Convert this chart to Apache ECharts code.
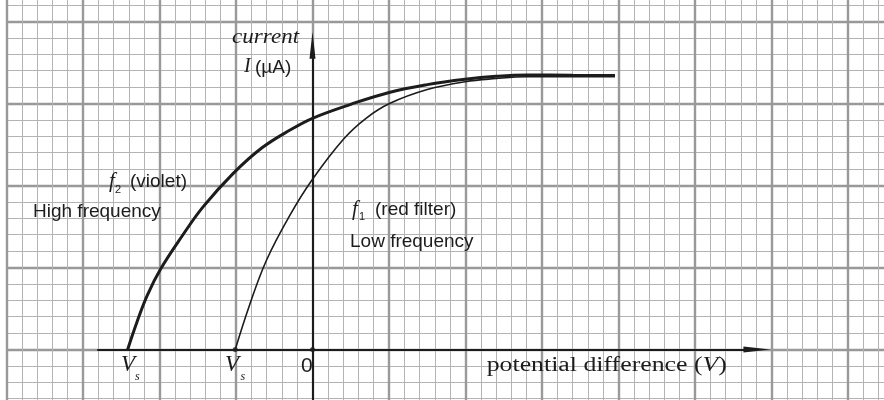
<!DOCTYPE html>
<html><head><meta charset="utf-8">
<script src="https://cdn.jsdelivr.net/npm/echarts@6/dist/echarts.min.js"></script>
<style>html,body{margin:0;padding:0;background:#fff;overflow:hidden;width:884px;height:400px}
#c{position:absolute;left:0;top:-61px;width:930px;height:500px}</style>
</head><body><div id="c"></div>
<script>
// x in minor squares from the current axis, y in minor squares from the voltage axis
const f2Violet = [[-12.08,0],[-11.5,1.6],[-10.8,3.3],[-9.9,4.95],[-8.5,6.95],[-7.14,8.71],[-5.18,10.74],[-3.3,12.3],[-1.47,13.38],[0,14.1],[2.5,14.95],[4.95,15.66],[7.5,16.15],[9.97,16.48],[12,16.66],[14.0,16.74],[17,16.72],[19.77,16.7]];
const f1Red = [[-5.05,0],[-4.1,2.75],[-3.0,5.46],[-1.5,8.15],[0,10.38],[2.05,12.85],[3.5,14.1],[5.07,15.01],[7.5,15.85],[9.97,16.33],[12,16.52],[14.0,16.63],[17,16.64],[19.77,16.64]];
const stopPoints = [[-5.05,0],[0,0]];
const voltageAxis = [[-14.07,0],[29.05,0]];
const currentAxis = [[0,-5],[0,18.55]];
const xRange = [-20, 40];
const yRange = [-5, 25];

const OFFY = 61; // container is shifted up by this many pixels
const chart = echarts.init(document.getElementById('c'), null, {renderer:'canvas'});
const SERIF = '"Liberation Serif", "Times New Roman", serif';
const SANS = '"Liberation Sans", Arial, sans-serif';
const INK = '#1c1c1c';
function txt(text, x, base, size, fam, italic, sx){
  return {type:'text', x:x, y: base + OFFY - 0.345*size, scaleX: sx||1, z:100,
    style:{text:text, fontSize:size, fontFamily:fam, fontStyle: italic?'italic':'normal',
      fill:INK, align:'left', verticalAlign:'middle', textAlign:'left', textVerticalAlign:'middle'}};
}
function axisPair(range, interval, color, width){
  return {type:'value', min:range[0], max:range[1], interval:interval,
    axisLine:{show:false}, axisTick:{show:false}, axisLabel:{show:false},
    splitLine:{show:true, lineStyle:{color:color, width:width}}};
}
const option = {
  animation:false,
  grid:{left:6.5, top:0.5, width:918, height:492, containLabel:false},
  xAxis:[axisPair(xRange,1,'#b3b3b3',1), axisPair(xRange,5,'#999999',2.4)],
  yAxis:[axisPair(yRange,1,'#b3b3b3',1), axisPair(yRange,5,'#999999',2.4)],
  series:[
    {type:'line', data:f2Violet, smooth:0.4, symbol:'none', z:5,
      lineStyle:{color:INK, width:3}},
    {type:'line', data:f1Red, smooth:0.4, symbol:'none', z:5,
      lineStyle:{color:INK, width:1.6}},
    {type:'lines', coordinateSystem:'cartesian2d', polyline:false, z:6, silent:true,
      symbol:['none','path://M5 0 L10 28 L0 28 Z'], symbolSize:[1,[6,27]],
      lineStyle:{color:INK, width:2, opacity:1}, itemStyle:{color:INK},
      data:[{coords:voltageAxis},{coords:currentAxis}]},
    {type:'scatter', data:stopPoints, symbolSize:5, itemStyle:{color:INK}, z:7}
  ],
  graphic:[
    txt('current', 232, 45, 21, SERIF, true, 1.1),
    txt('I', 244, 74, 20, SERIF, true),
    txt('(µA)', 255, 74, 19, SANS, false),
    txt('V', 121, 373, 23, SERIF, true),
    txt('s', 135, 381, 12, SERIF, true),
    txt('V', 225, 373, 23, SERIF, true),
    txt('s', 240.5, 381, 12, SERIF, true),
    txt('0', 301, 373, 21, SANS, false),
    {type:'text', x:486.7, y:373+OFFY-0.345*20, scaleX:1.29, z:100,
      style:{text:'{n|potential difference (}{i|V}{n|)}', fill:INK, align:'left', verticalAlign:'middle',
        rich:{n:{fontSize:20, fontFamily:SERIF, fill:INK}, i:{fontSize:20, fontFamily:SERIF, fontStyle:'italic', fill:INK}}}},
    txt('f', 109, 189, 21, SERIF, true),
    txt('2', 115, 194, 11, SANS, false),
    txt('(violet)', 130, 188, 19, SANS, false),
    txt('High frequency', 33, 218, 19, SANS, false),
    txt('f', 352, 217, 21, SERIF, true),
    txt('1', 359, 221, 11, SANS, false),
    txt('(red filter)', 375, 216.5, 19, SANS, false),
    txt('Low frequency', 350, 248, 19, SANS, false)
  ]
};
chart.setOption(option);
</script>
</body></html>
